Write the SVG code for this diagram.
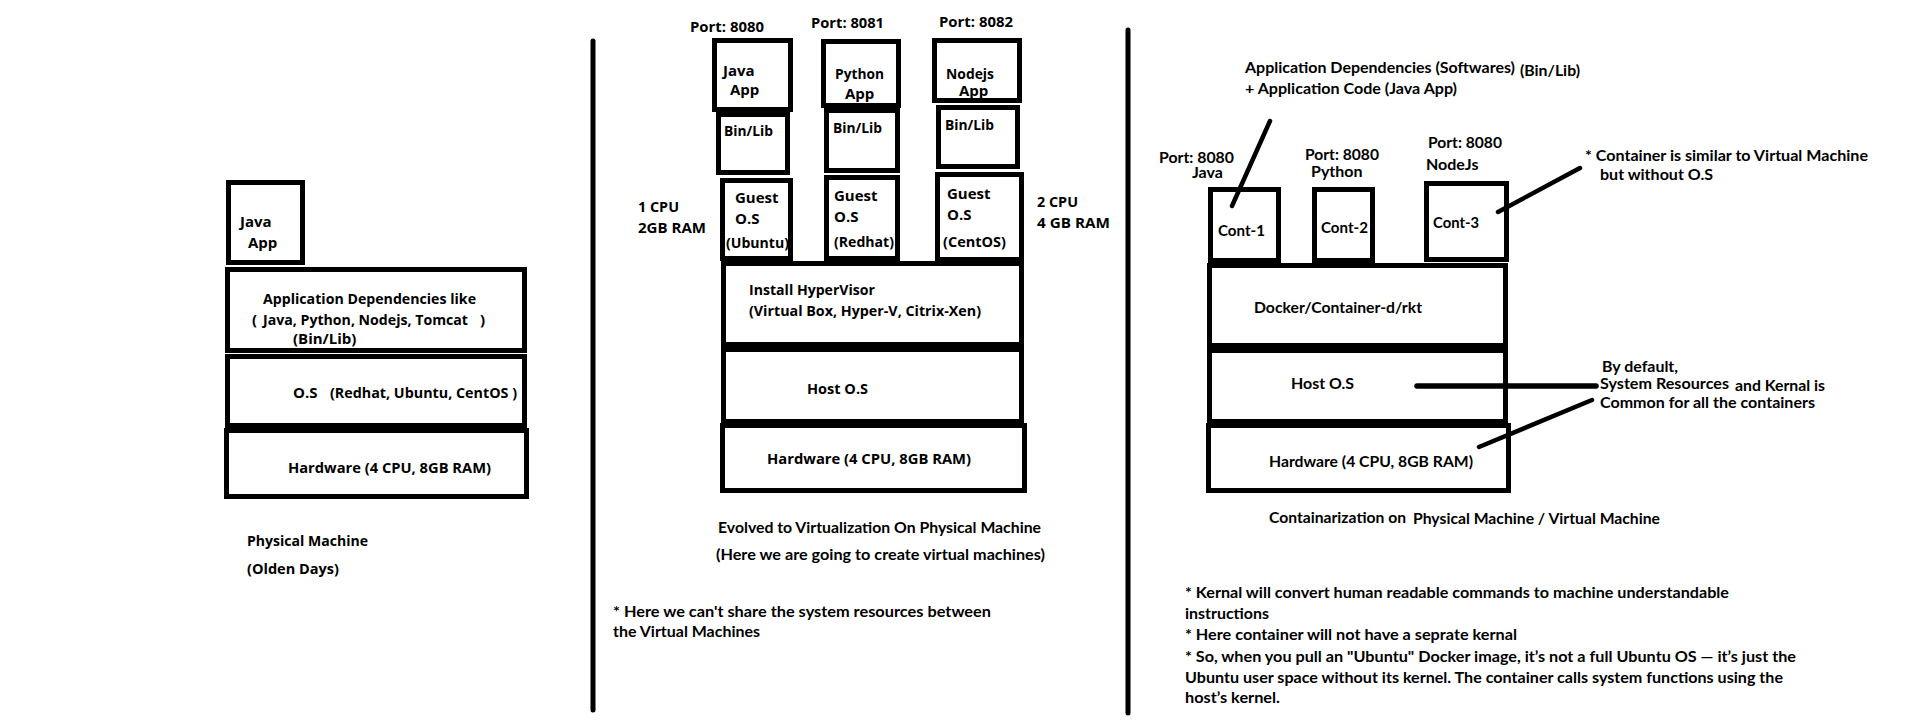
<svg xmlns="http://www.w3.org/2000/svg" width="1920" height="728" viewBox="0 0 1920 728">
<style>
.box{fill:none;stroke:#000;stroke-width:5}
.ln{stroke:#000;stroke-width:4.5;stroke-linecap:round;fill:none}
.dv{stroke:#000;stroke-width:5;stroke-linecap:round}
.s{font-family:"Open Sans","Noto Sans",sans-serif;font-weight:700;font-size:15px;fill:#000}
.c{font-family:Lato,"Liberation Sans",sans-serif;font-weight:700;font-size:16px;fill:#000}
</style>
<rect x="0" y="0" width="1920" height="728" fill="#fff"/>
<g id="dividers">
<line class="dv" x1="593" y1="41" x2="593" y2="710"/>
<line class="dv" x1="1128" y1="30" x2="1128" y2="713"/>
</g>
<!-- Panel 1 -->
<g id="p1-java-app"><rect class="box" x="228.5" y="182.5" width="74" height="80"/>
<text class="s" x="240" y="227">Java</text><text class="s" x="248" y="248">App</text></g>
<g id="p1-deps"><rect class="box" x="227.5" y="269.5" width="297" height="81"/>
<text class="s" x="263" y="304" textLength="213" lengthAdjust="spacingAndGlyphs">Application Dependencies like</text>
<text class="s" x="252" y="325">(</text>
<text class="s" x="263" y="325" textLength="205" lengthAdjust="spacingAndGlyphs">Java, Python, Nodejs, Tomcat</text>
<text class="s" x="480" y="325">)</text>
<text class="s" x="293" y="344">(Bin/Lib)</text></g>
<g id="p1-os"><rect class="box" x="227.5" y="356.5" width="297" height="69"/>
<text class="s" x="293" y="398">O.S</text>
<text class="s" x="330" y="398" textLength="187" lengthAdjust="spacingAndGlyphs">(Redhat, Ubuntu, CentOS )</text></g>
<g id="p1-hw"><rect class="box" x="226.5" y="430.5" width="300" height="66"/>
<text class="s" x="288" y="473" textLength="203" lengthAdjust="spacingAndGlyphs">Hardware (4 CPU, 8GB RAM)</text></g>
<g id="p1-caption">
<text class="s" x="247" y="546" textLength="121" lengthAdjust="spacingAndGlyphs">Physical Machine</text>
<text class="s" x="247" y="574" textLength="92" lengthAdjust="spacingAndGlyphs">(Olden Days)</text></g>
<!-- Panel 2 -->
<g id="p2-java">
<text class="s" x="690" y="32" textLength="74" lengthAdjust="spacingAndGlyphs">Port: 8080</text>
<rect class="box" x="714.5" y="40.5" width="76" height="69"/>
<text class="s" x="723" y="76">Java</text><text class="s" x="730" y="95">App</text>
<rect class="box" x="718.5" y="114.5" width="69" height="58"/>
<text class="s" x="724" y="136" textLength="49" lengthAdjust="spacingAndGlyphs">Bin/Lib</text>
<rect class="box" x="722.5" y="180.5" width="68" height="78"/>
<text class="s" x="735" y="203">Guest</text><text class="s" x="735" y="224">O.S</text>
<text class="s" x="726" y="248" textLength="63" lengthAdjust="spacingAndGlyphs">(Ubuntu)</text></g>
<g id="p2-python">
<text class="s" x="811" y="28" textLength="73" lengthAdjust="spacingAndGlyphs">Port: 8081</text>
<rect class="box" x="823.5" y="41.5" width="75" height="64"/>
<text class="s" x="835" y="79" textLength="49" lengthAdjust="spacingAndGlyphs">Python</text><text class="s" x="845" y="99">App</text>
<rect class="box" x="826.5" y="110.5" width="71" height="60"/>
<text class="s" x="833" y="133" textLength="49" lengthAdjust="spacingAndGlyphs">Bin/Lib</text>
<rect class="box" x="826.5" y="177.5" width="71" height="81"/>
<text class="s" x="834" y="201">Guest</text><text class="s" x="834" y="222">O.S</text>
<text class="s" x="834" y="247" textLength="60" lengthAdjust="spacingAndGlyphs">(Redhat)</text></g>
<g id="p2-nodejs">
<text class="s" x="939" y="27" textLength="74" lengthAdjust="spacingAndGlyphs">Port: 8082</text>
<rect class="box" x="934.5" y="40.5" width="85" height="60"/>
<text class="s" x="946" y="79" textLength="48" lengthAdjust="spacingAndGlyphs">Nodejs</text><text class="s" x="959" y="96">App</text>
<rect class="box" x="938.5" y="107.5" width="79" height="59"/>
<text class="s" x="945" y="130" textLength="49" lengthAdjust="spacingAndGlyphs">Bin/Lib</text>
<rect class="box" x="937.5" y="174.5" width="84" height="85"/>
<text class="s" x="947" y="199">Guest</text><text class="s" x="947" y="220">O.S</text>
<text class="s" x="943" y="247" textLength="63" lengthAdjust="spacingAndGlyphs">(CentOS)</text></g>
<g id="p2-cpu-labels">
<text class="s" x="638" y="212" textLength="41" lengthAdjust="spacingAndGlyphs">1 CPU</text>
<text class="s" x="638" y="233" textLength="68" lengthAdjust="spacingAndGlyphs">2GB RAM</text>
<text class="s" x="1037" y="207" textLength="41" lengthAdjust="spacingAndGlyphs">2 CPU</text>
<text class="s" x="1037" y="228" textLength="73" lengthAdjust="spacingAndGlyphs">4 GB RAM</text></g>
<g id="p2-hypervisor"><rect class="box" x="723.5" y="263.5" width="298" height="81"/>
<text class="s" x="749" y="295" textLength="126" lengthAdjust="spacingAndGlyphs">Install HyperVisor</text>
<text class="s" x="749" y="316" textLength="232" lengthAdjust="spacingAndGlyphs">(Virtual Box, Hyper-V, Citrix-Xen)</text></g>
<g id="p2-host"><rect class="box" x="723.5" y="349.5" width="298" height="72"/>
<text class="s" x="807" y="394" textLength="61" lengthAdjust="spacingAndGlyphs">Host O.S</text></g>
<g id="p2-hw"><rect class="box" x="722.5" y="425.5" width="302" height="65"/>
<text class="s" x="767" y="464" textLength="204" lengthAdjust="spacingAndGlyphs">Hardware (4 CPU, 8GB RAM)</text></g>
<g id="p2-caption">
<text class="c" x="718" y="533" textLength="323" lengthAdjust="spacingAndGlyphs">Evolved to Virtualization On Physical Machine</text>
<text class="c" x="716" y="560" textLength="329" lengthAdjust="spacingAndGlyphs">(Here we are going to create virtual machines)</text>
<text class="c" x="613" y="617" textLength="378" lengthAdjust="spacingAndGlyphs">* Here we can't share the system resources between</text>
<text class="c" x="613" y="637" textLength="147" lengthAdjust="spacingAndGlyphs">the Virtual Machines</text></g>
<!-- Panel 3 -->
<g id="p3-deps-note">
<text class="c" x="1245" y="73" textLength="270" lengthAdjust="spacingAndGlyphs">Application Dependencies (Softwares)</text>
<text class="c" x="1520" y="76" textLength="60" lengthAdjust="spacingAndGlyphs">(Bin/Lib)</text>
<text class="c" x="1245" y="94" textLength="212" lengthAdjust="spacingAndGlyphs">+ Application Code  (Java App)</text></g>
<g id="p3-cont1">
<text class="c" x="1159" y="163" textLength="75" lengthAdjust="spacingAndGlyphs">Port: 8080</text>
<text class="c" x="1192" y="178">Java</text>
<rect class="box" x="1210.5" y="189.5" width="68" height="71"/>
<text class="c" x="1218" y="236" textLength="47" lengthAdjust="spacingAndGlyphs">Cont-1</text></g>
<g id="p3-cont2">
<text class="c" x="1305" y="160" textLength="74" lengthAdjust="spacingAndGlyphs">Port: 8080</text>
<text class="c" x="1311" y="177">Python</text>
<rect class="box" x="1314.5" y="189.5" width="58" height="71"/>
<text class="c" x="1321" y="233" textLength="47" lengthAdjust="spacingAndGlyphs">Cont-2</text></g>
<g id="p3-cont3">
<text class="c" x="1428" y="148" textLength="74" lengthAdjust="spacingAndGlyphs">Port: 8080</text>
<text class="c" x="1426" y="170">NodeJs</text>
<rect class="box" x="1426.5" y="183.5" width="80" height="76"/>
<text class="c" x="1433" y="228" textLength="46" lengthAdjust="spacingAndGlyphs">Cont-3</text></g>
<g id="p3-container-note">
<text class="c" x="1585" y="161" textLength="283" lengthAdjust="spacingAndGlyphs">* Container is similar to Virtual Machine</text>
<text class="c" x="1600" y="180" textLength="113" lengthAdjust="spacingAndGlyphs">but without O.S</text></g>
<g id="p3-docker"><rect class="box" x="1209.5" y="265.5" width="296" height="80"/>
<text class="c" x="1254" y="313" textLength="168" lengthAdjust="spacingAndGlyphs">Docker/Container-d/rkt</text></g>
<g id="p3-host"><rect class="box" x="1209.5" y="350.5" width="296" height="71"/>
<text class="c" x="1291" y="389" textLength="63" lengthAdjust="spacingAndGlyphs">Host O.S</text></g>
<g id="p3-hw"><rect class="box" x="1208.5" y="425.5" width="300" height="65"/>
<text class="c" x="1269" y="467" textLength="204" lengthAdjust="spacingAndGlyphs">Hardware (4 CPU, 8GB RAM)</text></g>
<g id="p3-shared-note">
<text class="c" x="1602" y="372" textLength="76" lengthAdjust="spacingAndGlyphs">By default,</text>
<text class="c" x="1600" y="389" textLength="129" lengthAdjust="spacingAndGlyphs">System Resources</text>
<text class="c" x="1735" y="391" textLength="90" lengthAdjust="spacingAndGlyphs">and Kernal is</text>
<text class="c" x="1600" y="408" textLength="215" lengthAdjust="spacingAndGlyphs">Common for all the containers</text></g>
<g id="p3-caption">
<text class="c" x="1269" y="523" textLength="137" lengthAdjust="spacingAndGlyphs">Containarization on</text>
<text class="c" x="1413" y="524" textLength="247" lengthAdjust="spacingAndGlyphs">Physical Machine / Virtual Machine</text></g>
<g id="p3-kernel-notes">
<text class="c" x="1185" y="598" textLength="544" lengthAdjust="spacingAndGlyphs">* Kernal will convert human readable commands to machine understandable</text>
<text class="c" x="1185" y="619" textLength="84" lengthAdjust="spacingAndGlyphs">instructions</text>
<text class="c" x="1185" y="640" textLength="332" lengthAdjust="spacingAndGlyphs">* Here container will not have a seprate kernal</text>
<text class="c" x="1185" y="662" textLength="611" lengthAdjust="spacingAndGlyphs">* So, when you pull an "Ubuntu" Docker image, it’s not a full Ubuntu OS — it’s just the</text>
<text class="c" x="1185" y="683" textLength="598" lengthAdjust="spacingAndGlyphs">Ubuntu user space without its kernel. The container calls system functions using the</text>
<text class="c" x="1185" y="703" textLength="95" lengthAdjust="spacingAndGlyphs">host’s kernel.</text></g>
<g id="connectors">
<line class="ln" x1="1270" y1="121" x2="1232" y2="206"/>
<line class="ln" x1="1580" y1="168" x2="1498" y2="212"/>
<line class="ln" x1="1417" y1="386" x2="1596" y2="386" style="stroke-width:5.5"/>
<line class="ln" x1="1592" y1="400" x2="1479" y2="447"/>
</g>
</svg>
